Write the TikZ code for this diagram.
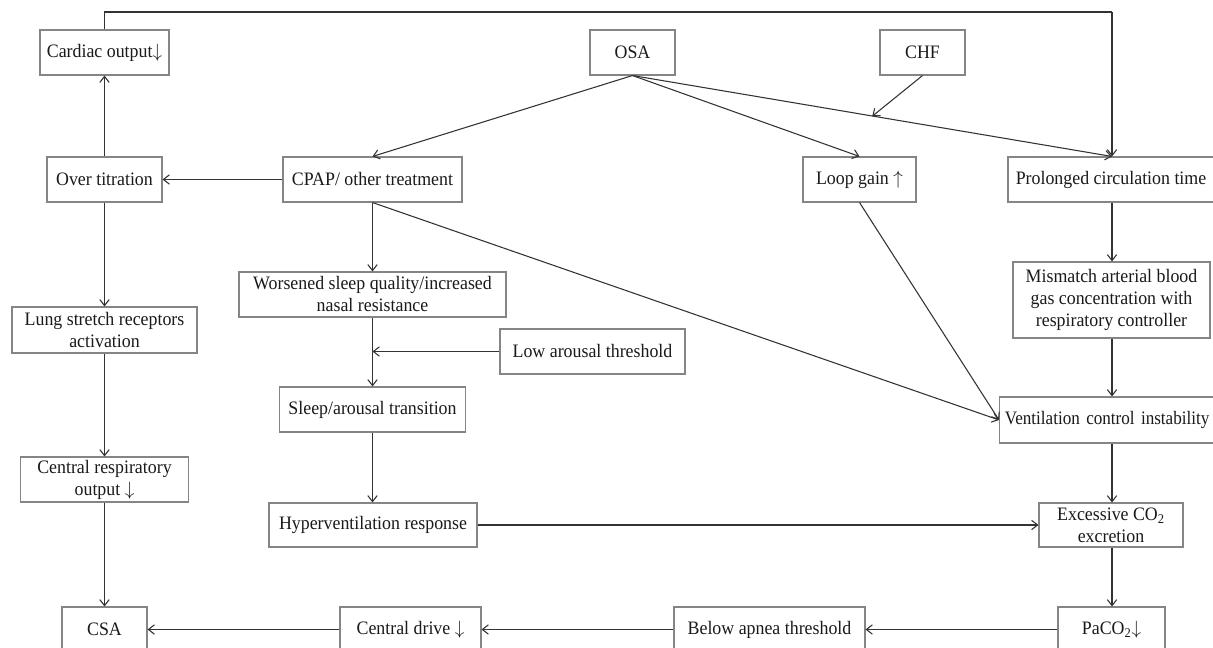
\documentclass[tikz,border=0pt]{standalone}
\usepackage{fontspec}
\setmainfont{Liberation Serif}[FakeStretch=0.94]
\newfontfamily\narrowf{Liberation Serif}[FakeStretch=0.9]
\usetikzlibrary{arrows.meta,calc}
\definecolor{linec}{HTML}{333333}
\definecolor{boxc}{HTML}{858585}
\definecolor{txtc}{HTML}{1A1A1A}
\tikzset{
  bx/.style={draw=boxc, line width=0.8pt, align=center, inner sep=0pt,
    text=txtc, font=\fontsize{14.25pt}{16.5pt}\selectfont},
  sz/.style 2 args={minimum width=#1*0.75pt, minimum height=#2*0.75pt},
  conn/.style={draw=linec, line width=0.8pt, -{Straight Barb[length=4.5pt,width=7pt]}},
  plain/.style={draw=linec, line width=0.8pt}
}
\begin{document}
\begin{tikzpicture}[x=0.75pt,y=-0.75pt]
\clip (0,0) rectangle (1213,648);
\fill[white] (0,0) rectangle (1213,648);
% top row
\node[bx,sz={129}{45}] (card) at (104.5,52.5) {Cardiac output$\downarrow$};
\node[bx,sz={85}{45}] (osa) at (632.5,52.5) {OSA};
\node[bx,sz={85}{45}] (chf) at (922.5,52.5) {CHF};
% second row
\node[bx,sz={115}{45}] (over) at (104.5,179.5) {Over titration};
\node[bx,sz={179}{45}] (cpap) at (372.5,179.5) {CPAP/ other treatment};
\node[bx,sz={113}{45}] (loop) at (859.5,179.5) {Loop gain $\uparrow$};
\node[bx,sz={206}{45}] (prol) at (1111,179.5) {Prolonged circulation time};
% middle
\node[bx,sz={267}{45}] (worse) at (372.5,294.5) {Worsened sleep quality/increased\\nasal resistance};
\node[bx,sz={185}{45}] (low) at (592.5,351.5) {Low arousal threshold};
\node[bx,sz={186}{45}] (sleep) at (372.5,409.5) {Sleep/arousal transition};
\node[bx,sz={208}{44}] (hyper) at (373,525) {Hyperventilation response};
\node[bx,sz={185}{46}] (lung) at (104.5,330) {Lung stretch receptors\\activation};
\node[bx,sz={168}{45}] (cro) at (104.5,479.5) {Central respiratory\\output $\downarrow$};
\node[bx,sz={197}{76}] (mis) at (1111.5,300) {Mismatch arterial blood\\gas concentration with\\respiratory controller};
\node[bx,sz={229}{46}, font=\narrowf\fontsize{14.25pt}{16.5pt}\selectfont, anchor=west, text width=221*0.75pt, align=left, inner xsep=4pt] (vent) at (999,420) {Ventilation control instability};
\node[bx,sz={144}{44}] (exc) at (1111,525) {Excessive CO\textsubscript{2}\\excretion};
% bottom row
\node[bx,sz={85}{45}] (csa) at (104.5,629.5) {CSA};
\node[bx,sz={141}{45}] (cdrive) at (410.5,629.5) {Central drive $\downarrow$};
\node[bx,sz={191}{45}] (below) at (769.5,629.5) {Below apnea threshold};
\node[bx,sz={107}{45}] (paco) at (1111.5,629.5) {PaCO\textsubscript{2}$\downarrow$};
% coordinates
\coordinate (topL) at (104.5,12);
\coordinate (topR) at (1112,12);
\coordinate (mid) at ($(osa.south)!0.5!(1112,157)$);
\coordinate (join) at (worse.south |- low.west);
% connectors
\draw[plain] (card.north) -- (topL) -- (topR);
\draw[conn] (topR) -- (topR |- prol.north);
\draw[conn] (osa.south) -- (cpap.north);
\draw[conn] (osa.south) -- (loop.north);
\draw[conn] (osa.south) -- (topR |- prol.north);
\draw[conn] (chf.south) -- (mid);
\draw[conn] (cpap.west) -- (over.east);
\draw[conn] (over.north) -- (over.north |- card.south);
\draw[conn] (over.south) -- (over.south |- lung.north);
\draw[conn] (lung.south) -- (lung.south |- cro.north);
\draw[conn] (cro.south) -- (cro.south |- csa.north);
\draw[conn] (cpap.south) -- (cpap.south |- worse.north);
\draw[conn] (cpap.south) -- (vent.west);
\draw[conn] (loop.south) -- (vent.west);
\draw[plain] (worse.south) -- (join);
\draw[conn] (join) -- (join |- sleep.north);
\draw[conn] (low.west) -- (join);
\draw[conn] (join |- sleep.south) -- (join |- hyper.north);
\draw[conn] (hyper.east) -- (exc.west);
\draw[conn] (topR |- prol.south) -- (topR |- mis.north);
\draw[conn] (topR |- mis.south) -- (topR |- vent.north);
\draw[conn] (topR |- vent.south) -- (topR |- exc.north);
\draw[conn] (topR |- exc.south) -- (topR |- paco.north);
\draw[conn] (paco.west) -- (below.east);
\draw[conn] (below.west) -- (cdrive.east);
\draw[conn] (cdrive.west) -- (csa.east);
\end{tikzpicture}
\end{document}
